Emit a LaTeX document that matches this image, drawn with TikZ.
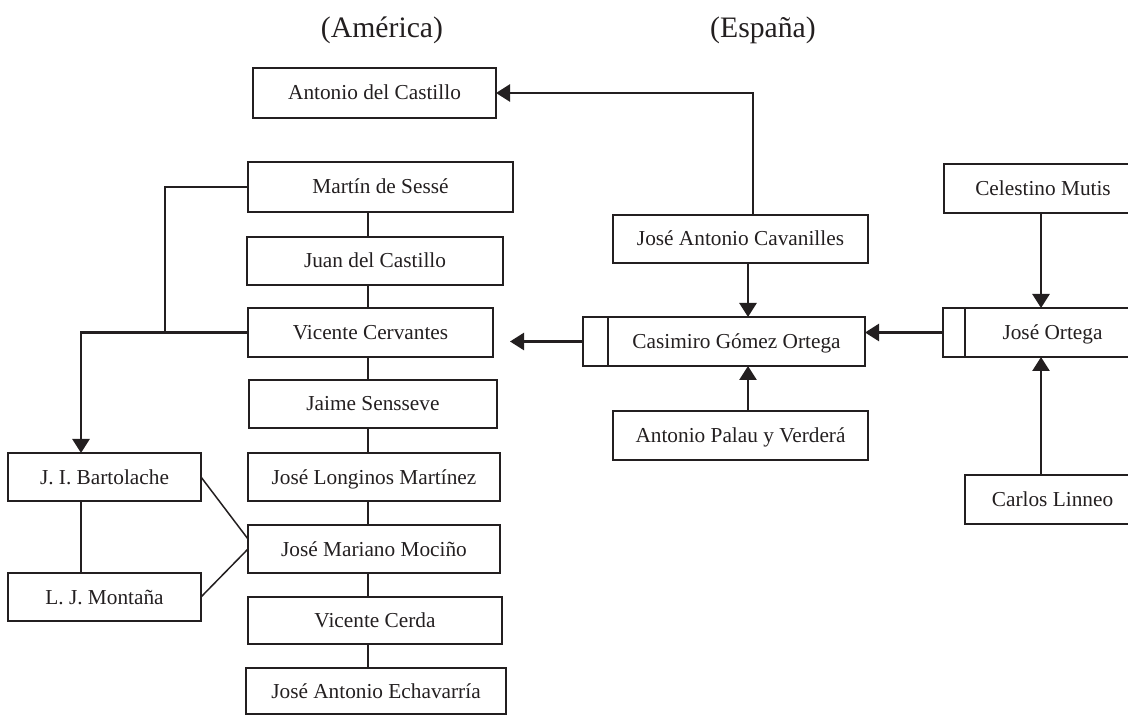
\documentclass[tikz,border=0pt]{standalone}
\usepackage{fontspec}
\setmainfont{Liberation Serif}
\usetikzlibrary{arrows.meta}
\definecolor{ink}{HTML}{231F20}
\begin{document}
\begin{tikzpicture}[x=0.5pt,y=-0.5pt,
  box/.style={draw=ink, line width=0.9pt, inner sep=0pt, outer sep=0pt,
              text height=7pt, text depth=0pt,
              font=\fontsize{10.65}{12}\selectfont, text=ink},
  link/.style={draw=ink, line width=0.75pt},
  arr/.style={draw=ink, line width=1.3pt, -{Triangle[length=7pt,width=8.5pt]}},
  head/.style={font=\fontsize{14.85}{18}\selectfont, text=ink, anchor=base, inner sep=0pt}]
\useasboundingbox (0,0) rectangle (1128,715);
\clip (0,0) rectangle (1128,715);

% column headings
\node[head] (am) at (382,38) {(América)};
\node[head] (es) at (763,38) {(España)};

% American column
\node[box, minimum width=121.5pt, minimum height=25pt]   (cas) at (374.5,93)   {Antonio del Castillo};
\node[box, minimum width=132.5pt, minimum height=25pt]   (ses) at (380.5,187)  {Martín de Sessé};
\node[box, minimum width=128pt,   minimum height=24pt]   (jca) at (375,261)    {Juan del Castillo};
\node[box, minimum width=122.5pt, minimum height=24.5pt] (cer) at (370.5,332.5) {Vicente Cervantes};
\node[box, minimum width=124pt,   minimum height=24pt]   (sen) at (373,404)    {Jaime Sensseve};
\node[box, minimum width=126pt,   minimum height=24pt]   (lon) at (374,477)    {José Longinos Martínez};
\node[box, minimum width=126pt,   minimum height=24pt]   (moc) at (374,549)    {José Mariano Mociño};
\node[box, minimum width=127pt,   minimum height=23.5pt] (cda) at (375,620.5)  {Vicente Cerda};
\node[box, minimum width=130pt,   minimum height=23pt]   (ech) at (376,691)    {José Antonio Echavarría};
\node[box, minimum width=96.5pt,  minimum height=24pt]   (bar) at (104.5,477)  {J. I. Bartolache};
\node[box, minimum width=96.5pt,  minimum height=24pt]   (mon) at (104.5,597)  {L. J. Montaña};

% Spanish column
\node[box, minimum width=127.5pt, minimum height=24pt]   (cav) at (740.5,239)   {José Antonio Cavanilles};
\node[box, minimum width=128.5pt, minimum height=24.5pt] (gom) at (736.5,341.5) {Casimiro Gómez Ortega};
\node[box, minimum width=12.5pt,  minimum height=24.5pt, anchor=east] (gomtab) at (gom.west) {};
\node[box, minimum width=127.5pt, minimum height=24.5pt] (pal) at (740.5,435.5) {Antonio Palau y Verderá};

% right-hand group
\node[box, minimum width=99pt,    minimum height=24.5pt] (mut) at (1043,188.5)  {Celestino Mutis};
\node[box, minimum width=87.5pt,  minimum height=24.5pt] (ort) at (1052.5,332.5) {José Ortega};
\node[box, minimum width=11pt,    minimum height=24.5pt, anchor=east] (orttab) at (ort.west) {};
\node[box, minimum width=87.5pt,  minimum height=24.5pt] (lin) at (1052.5,499.5) {Carlos Linneo};

% guide coordinates for vertical runs
\coordinate (colx) at (368,0);
\coordinate (brx)  at (165,0);
\coordinate (ax)   at (81,0);
\coordinate (vxa)  at (753,0);
\coordinate (vxb)  at (748,0);
\coordinate (mx)   at (1041,0);
\coordinate (gl)   at (510,0);

% chain of the American column
\foreach \a/\b in {ses/jca,jca/cer,cer/sen,sen/lon,lon/moc,moc/cda,cda/ech}
  \draw[link] (\a.south -| colx) -- (\b.north -| colx);

% bracket and branch to Bartolache
\draw[link] (ses.west) -- (ses.west -| brx) -- (cer.west -| brx);
\draw[arr] (cer.west) -| (ax |- bar.north);
\draw[link] (bar.south -| ax) -- (mon.north -| ax);
\draw[link] (bar.east) -- ([yshift=5pt]moc.west);
\draw[link] (mon.east) -- (moc.west);

% Spanish links
\draw[arr] (cav.north -| vxa) |- (cas.east);
\draw[arr] (cav.south -| vxb) -- (gom.north -| vxb);
\draw[arr] (pal.north -| vxb) -- (gom.south -| vxb);
\draw[arr] (gomtab.west) -- (gomtab.west -| gl);
\draw[arr] (orttab.west) -- (orttab.west -| gom.east);
\draw[arr] (mut.south -| mx) -- (ort.north -| mx);
\draw[arr] (lin.north -| mx) -- (ort.south -| mx);
\end{tikzpicture}
\end{document}
